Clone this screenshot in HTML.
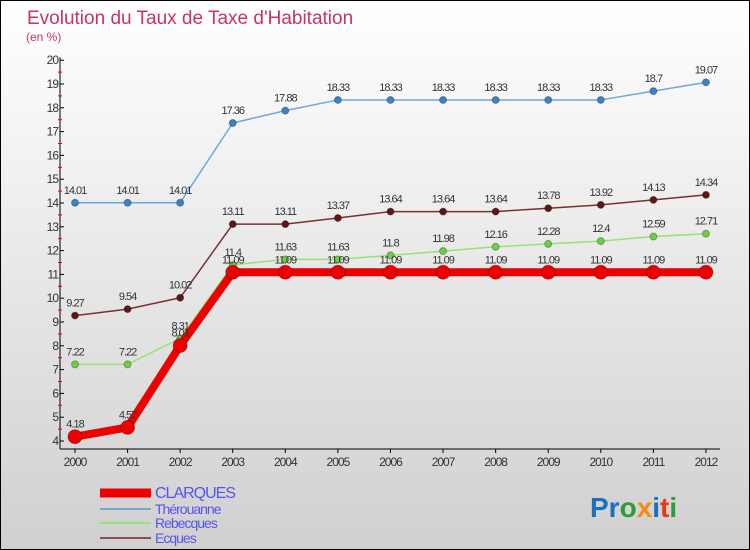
<!DOCTYPE html>
<html><head><meta charset="utf-8"><style>
body{margin:0;width:750px;height:550px;overflow:hidden}
#c{position:absolute;left:0;top:0;width:748px;height:548px;border:1px solid #000;background:linear-gradient(#fff,#d0d0d0)}
text{font-family:"Liberation Sans",sans-serif}
</style></head><body>
<div id="c">
<svg id="s" width="750" height="550" style="position:absolute;left:-1px;top:-1px">
<text x="27" y="24" font-size="19" fill="#c8336a">Evolution du Taux de Taxe d'Habitation</text>
<text x="26" y="41" font-size="12" fill="#c8336a">(en %)</text>
<g id="g"></g>
<text x="590" y="517" font-size="28" font-weight="bold" font-family="Liberation Sans"><tspan fill="#1a6fc0">Pr</tspan><tspan fill="#2e9a3a">o</tspan><tspan fill="#f58a10">x</tspan><tspan fill="#1a6fc0">i</tspan><tspan fill="#e83a1a">t</tspan><tspan fill="#2e9a3a">i</tspan></text>
</svg></div>
<script>
const years=[2000,2001,2002,2003,2004,2005,2006,2007,2008,2009,2010,2011,2012];
const yTicks=[4,5,6,7,8,9,10,11,12,13,14,15,16,17,18,19,20];
const clarques=[4.18,4.57,8.01,11.09,11.09,11.09,11.09,11.09,11.09,11.09,11.09,11.09,11.09];
const therouanne=[14.01,14.01,14.01,17.36,17.88,18.33,18.33,18.33,18.33,18.33,18.33,18.7,19.07];
const rebecques=[7.22,7.22,8.31,11.4,11.63,11.63,11.8,11.98,12.16,12.28,12.4,12.59,12.71];
const ecques=[9.27,9.54,10.02,13.11,13.11,13.37,13.64,13.64,13.64,13.78,13.92,14.13,14.34];
const X=i=>75+i*52.58, Y=v=>441-(v-4)*23.8;
const g=document.getElementById('g'),NS='http://www.w3.org/2000/svg';
function el(t,a,p){const e=document.createElementNS(NS,t);for(const k in a)e.setAttribute(k,a[k]);(p||g).appendChild(e);return e;}
let e=el('line',{x1:60,y1:Y(20)-3,x2:60,y2:449,stroke:'#000'});

e=el('line',{x1:60,y1:449,x2:720,y2:449,stroke:'#000'});

yTicks.forEach(v=>{el('line',{x1:60,y1:Y(v),x2:64,y2:Y(v),stroke:'#000'});
 if(v<20){el('line',{x1:58,y1:Y(v+0.5),x2:62,y2:Y(v+0.5),stroke:'#e00'});}
 const t=el('text',{x:58,y:Y(v)+4,'font-size':12,fill:'#333','text-anchor':'end','letter-spacing':'-1'});t.textContent=v;
 });
years.forEach((y,i)=>{el('line',{x1:X(i),y1:449,x2:X(i),y2:453,stroke:'#000'});
 const t=el('text',{x:X(i),y:466,'font-size':12,fill:'#333','text-anchor':'middle','letter-spacing':'-1'});t.textContent=y;
 });
function series(d,col,dot,w,r,name){
 const p=el('polyline',{points:d.map((v,i)=>X(i)+','+Y(v)).join(' '),fill:'none',stroke:col,'stroke-width':w,'stroke-linejoin':'round'});
 
 d.forEach((v,i)=>{const c=el('circle',{cx:X(i),cy:Y(v),r:r,fill:dot,stroke:'rgba(0,0,0,0.3)'});
  
  const t=el('text',{x:X(i),y:Y(v)-9,'font-size':11,fill:'#333','text-anchor':'middle','letter-spacing':'-1'});t.textContent=v;
  });
}
series(therouanne,'#6fa8dc','#3a84c6',1.5,3.5,'therouanne');
series(ecques,'#7a3030','#5e1616',1.5,3.5,'ecques');
series(rebecques,'#99e07a','#6cd040',1.5,3.5,'rebecques');
series(clarques,'#ee0000','#ee0000',8,7,'clarques');
const leg=[['CLARQUES','#ee0000',9,14],['Thérouanne','#7aa8cc',2,12],['Rebecques','#99e07a',2,12],['Ecques','#8a5050',2,12]];
const ly=[493,509,523,538];
leg.forEach((l,i)=>{let a=el('line',{x1:100,y1:ly[i],x2:151,y2:ly[i],stroke:l[1],'stroke-width':l[2]});
 
 const t=el('text',{x:155,y:ly[i]+5,'font-size':l[3]+2,fill:'#5555ee','letter-spacing':'-1'});t.textContent=l[0];
 });
</script></body></html>
